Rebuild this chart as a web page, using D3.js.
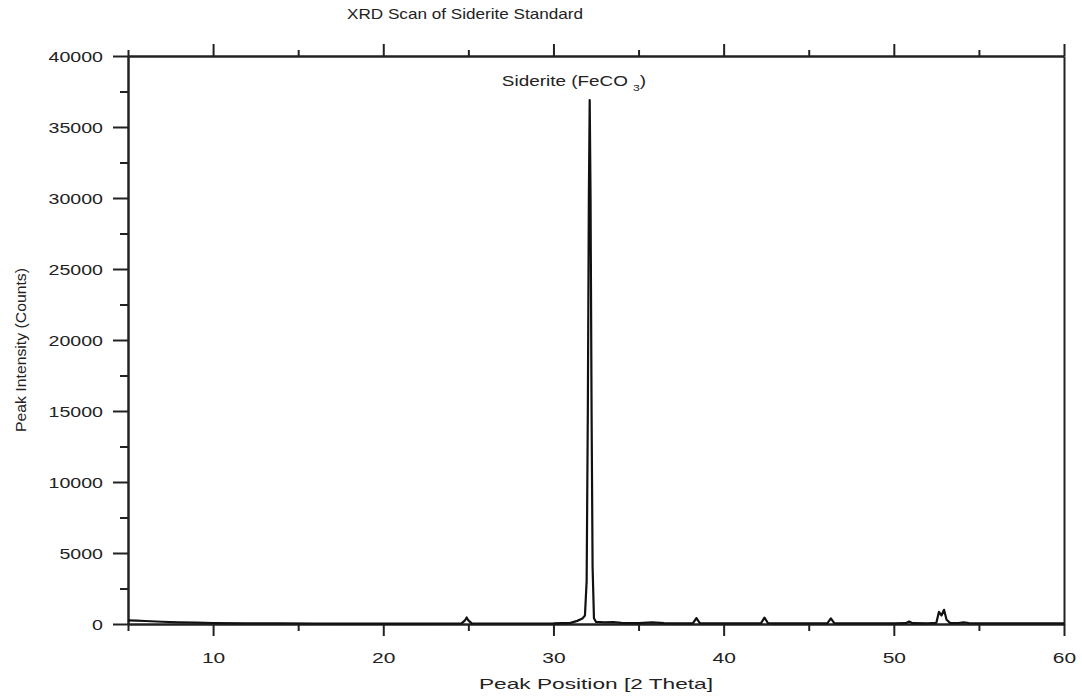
<!DOCTYPE html>
<html>
<head>
<meta charset="utf-8">
<script src="https://cdn.jsdelivr.net/npm/d3@7"></script>
<style>
  body { margin: 0; background: #fff; }
  text { font-family: "Liberation Sans", Arial, sans-serif; fill: #222; }
</style>
</head>
<body>
<div id="chart"></div>
<script>
// XRD scan, values
var twoTheta = [5.0, 5.5, 6, 7, 8, 9, 10, 12, 14, 16, 18, 20, 22, 24, 24.6, 24.8, 24.9, 25.0, 25.2, 26, 28, 30,
  31.0, 31.4, 31.7, 31.85, 31.95, 32.02, 32.08, 32.13, 32.18, 32.24, 32.30, 32.38, 32.5, 33.0, 33.5, 34, 35, 35.8, 36.5,
  37.5, 38.2, 38.4, 38.6, 39, 41, 42.2, 42.4, 42.6, 43, 45, 46.1, 46.3, 46.5, 47, 50, 50.7, 50.9, 51.1, 52, 52.5,
  52.65, 52.8, 52.95, 53.1, 53.3, 53.8, 54.1, 54.4, 55, 57, 60]
var counts = [260, 240, 210, 160, 120, 90, 70, 50, 40, 35, 30, 30, 30, 35, 40, 250, 460, 250, 40, 35, 35, 40,
  80, 220, 380, 600, 3000, 15000, 30000, 36900, 30000, 15000, 4000, 400, 150, 120, 130, 80, 60, 110, 60,
  50, 60, 420, 60, 50, 50, 60, 450, 70, 50, 45, 60, 400, 60, 45, 45, 60, 180, 60, 50, 80,
  850, 600, 1000, 300, 80, 70, 120, 70, 50, 45, 40]

var xMajor = [10, 20, 30, 40, 50, 60]
var xMinor = [5, 15, 25, 35, 45, 55]
var yMajor = [0, 5000, 10000, 15000, 20000, 25000, 30000, 35000, 40000]
var yMinor = [2500, 7500, 12500, 17500, 22500, 27500, 32500, 37500]

var chartTitle = "XRD Scan of Siderite Standard"
var xTitle = "Peak Position [2 Theta]"
var yTitle = "Peak Intensity (Counts)"
var peakName = "Siderite (FeCO"
var peakSub = "3"

var w = 1082
var h = 698
var mLeft = 128, mRight = 1064, mTop = 56, mBottom = 624

var svg = d3.select("#chart").append("svg").attr("width", w).attr("height", h)

var xScale = d3.scaleLinear().domain([5, 60]).range([mLeft, mRight])
var yScale = d3.scaleLinear().domain([0, 40000]).range([mBottom, mTop])

var data = twoTheta.map(function(t, i) { return {t: t, c: counts[i]} })

function styleAxis(g) {
  g.select(".domain").attr("stroke", "#222").attr("stroke-width", 2)
  g.selectAll(".tick line").attr("stroke", "#222").attr("stroke-width", 2)
}

// bottom axis
var bx = svg.append("g").attr("transform", "translate(0," + mBottom + ")")
  .call(d3.axisBottom(xScale).tickValues(xMajor).tickSize(12).tickSizeOuter(0).tickFormat(d3.format("d")))
  .call(styleAxis)
bx.selectAll("text").attr("y", 0).attr("dy", 0)
  .attr("transform", "translate(0,39) scale(1.4,1)")
  .style("font-size", "15px").attr("fill", "#222")
svg.append("g").attr("transform", "translate(0," + mBottom + ")")
  .call(d3.axisBottom(xScale).tickValues(xMinor).tickSize(7).tickSizeOuter(0).tickFormat(""))
  .call(styleAxis)

// top axis
svg.append("g").attr("transform", "translate(0," + mTop + ")")
  .call(d3.axisTop(xScale).tickValues(xMajor).tickSize(12).tickSizeOuter(0).tickFormat(""))
  .call(styleAxis)
svg.append("g").attr("transform", "translate(0," + mTop + ")")
  .call(d3.axisTop(xScale).tickValues(xMinor).tickSize(6).tickSizeOuter(0).tickFormat(""))
  .call(styleAxis)

// left axis
var ly = svg.append("g").attr("transform", "translate(" + mLeft + ",0)")
  .call(d3.axisLeft(yScale).tickValues(yMajor).tickSize(15).tickSizeOuter(0).tickFormat(d3.format("d")))
  .call(styleAxis)
ly.selectAll("text").attr("x", 0).attr("dy", "0.36em")
  .attr("transform", "translate(-25,0) scale(1.4,1)")
  .style("font-size", "14px").attr("fill", "#222")
svg.append("g").attr("transform", "translate(" + mLeft + ",0)")
  .call(d3.axisLeft(yScale).tickValues(yMinor).tickSize(8).tickSizeOuter(0).tickFormat(""))
  .call(styleAxis)

// right side, no ticks
svg.append("g").attr("transform", "translate(" + mRight + ",0)")
  .call(d3.axisRight(yScale).tickValues([]).tickSizeOuter(0))
  .call(styleAxis)

var line = d3.line()
  .x(function(d) { return xScale(d.t) })
  .y(function(d) { return yScale(d.c) })

svg.append("path").datum(data)
  .attr("d", line)
  .attr("fill", "none")
  .attr("stroke", "#111")
  .attr("stroke-width", 2.2)
  .attr("stroke-linejoin", "round")

// titles
svg.append("text").attr("x", 465).attr("y", 19).attr("text-anchor", "middle")
  .attr("textLength", 236).attr("lengthAdjust", "spacingAndGlyphs")
  .style("font-size", "15px").text(chartTitle)
svg.append("text").attr("x", (mLeft + mRight) / 2).attr("y", 689).attr("text-anchor", "middle")
  .attr("textLength", 234).attr("lengthAdjust", "spacingAndGlyphs")
  .style("font-size", "14.5px").text(xTitle)
svg.append("text").attr("transform", "translate(26,350) rotate(-90)")
  .attr("text-anchor", "middle")
  .attr("textLength", 164).attr("lengthAdjust", "spacingAndGlyphs")
  .style("font-size", "15px").text(yTitle)

// peak label
var lab = svg.append("text").attr("transform", "translate(574,86) scale(1.35,1)").attr("text-anchor", "middle")
  .style("font-size", "14px")
lab.append("tspan").text(peakName + " ")
lab.append("tspan").attr("dy", 5).style("font-size", "9px").text(peakSub)
lab.append("tspan").attr("dy", -5).text(")")
</script>
</body>
</html>
